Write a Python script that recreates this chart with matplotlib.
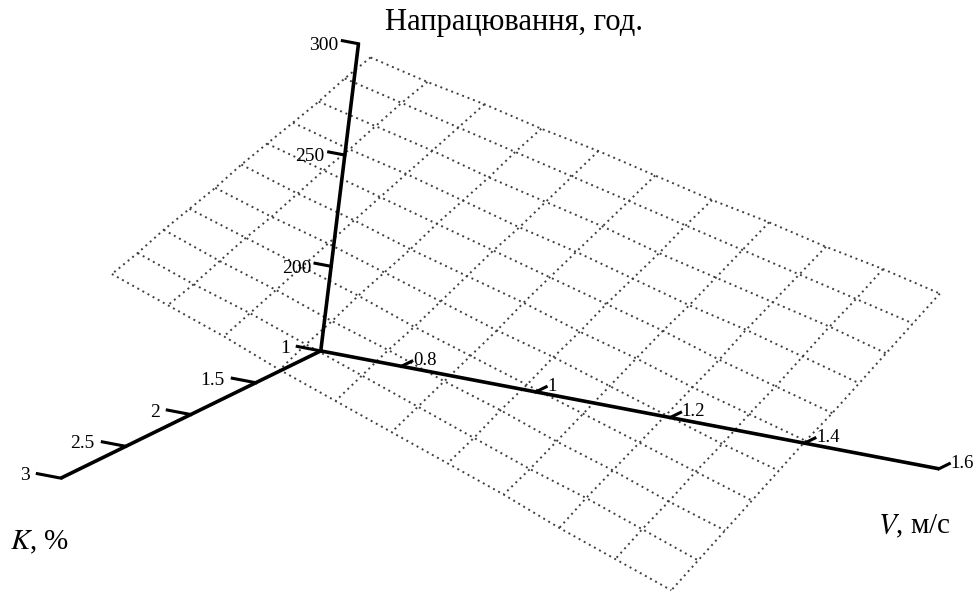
import matplotlib.pyplot as plt
import numpy as np
from mpl_toolkits.mplot3d import proj3d

plt.rcParams["mathtext.fontset"] = "stix"

# grid of the surface (K, %  and  V, m/s)
k_vals = [1.0, 1.19, 1.38, 1.57, 1.76, 1.95, 2.14, 2.33, 2.52, 2.71, 2.9]
v_vals = [0.70, 0.787, 0.874, 0.961, 1.048, 1.135, 1.222, 1.309, 1.396, 1.483, 1.57]

# operating time, hours (rows - K, columns - V)
hours = [
    [295, 289, 284, 278, 273, 267, 261, 256, 250, 245, 239],
    [291, 285, 279, 273, 267, 261, 255, 249, 243, 237, 231],
    [286, 280, 274, 267, 261, 255, 248, 242, 236, 230, 223],
    [282, 275, 269, 262, 255, 249, 242, 235, 229, 222, 215],
    [278, 271, 264, 257, 250, 243, 236, 229, 221, 214, 207],
    [274, 266, 259, 251, 244, 237, 229, 222, 214, 207, 200],
    [269, 261, 254, 246, 238, 230, 223, 215, 207, 199, 192],
    [265, 257, 249, 241, 232, 224, 216, 208, 200, 192, 184],
    [261, 252, 244, 235, 227, 218, 210, 201, 193, 184, 176],
    [256, 247, 239, 230, 221, 212, 203, 194, 186, 177, 168],
    [252, 243, 234, 224, 215, 206, 197, 188, 178, 169, 160],
]

# axis ranges and ticks
k_min, k_max = 1.0, 3.0
v_min, v_max = 0.68, 1.6
t_min, t_max = 162, 300

k_ticks = [1, 1.5, 2, 2.5, 3]
k_labels = ["1", "1.5", "2", "2.5", "3"]
v_ticks = [0.8, 1.0, 1.2, 1.4, 1.6]
v_labels = ["0.8", "1", "1.2", "1.4", "1.6"]
t_ticks = [200, 250, 300]
t_labels = ["200", "250", "300"]

serif = "Liberation Serif"

fig = plt.figure(figsize=(9.75, 5.93), dpi=100)
ax = fig.add_axes([-0.0472, -0.492, 1.128, 1.855], projection="3d", proj_type="ortho")
ax.set_axis_off()
ax.computed_zorder = False

ax.set_xlim(k_min, k_max)
ax.set_ylim(v_min, v_max)
ax.set_zlim(t_min, t_max)
ax.set_box_aspect((1.21, 1.0, 0.48), zoom=0.955)
ax.view_init(elev=12, azim=17.7, roll=-7)

K, V = np.meshgrid(k_vals, v_vals, indexing="ij")
Z = np.array(hours, dtype=float)
ax.plot_wireframe(K, V, Z, rstride=1, cstride=1, color="0.25", linewidth=1.4,
                  linestyle=(0, (1, 2.0)))

# three axes from one corner
ax.plot([k_min, k_max], [v_min, v_min], [t_min, t_min], color="k", lw=2.6, solid_capstyle="butt")
ax.plot([k_min, k_min], [v_min, v_max], [t_min, t_min], color="k", lw=2.6, solid_capstyle="butt")
ax.plot([k_min, k_min], [v_min, v_min], [t_min, t_max], color="k", lw=2.6, solid_capstyle="butt")

M = ax.get_proj()


def label(k, v, t, s, ha, size=14):
    # put a flat text at the projected point of (k, v, t)
    x2, y2, _ = proj3d.proj_transform(k, v, t, M)
    ax.text2D(x2, y2, s, transform=ax.transData, ha=ha, va="center",
              fontsize=size, family=serif)


dv = 0.035   # tick length along V (K axis)
dvt = 0.024  # tick length along V (vertical axis)
dk = 0.08    # tick length along K (V axis)
for k, lab in zip(k_ticks, k_labels):
    ax.plot([k, k], [v_min, v_min - dv], [t_min, t_min], color="k", lw=2.2)
    label(k, v_min - dv * 1.3, t_min - 1.5, lab, "right")
for v, lab in zip(v_ticks, v_labels):
    ax.plot([k_min, k_min - dk], [v, v], [t_min, t_min], color="k", lw=2.2)
    label(k_min - dk * 1.1, v, t_min, lab, "left", 13.5)
for t, lab in zip(t_ticks, t_labels):
    ax.plot([k_min, k_min], [v_min, v_min - dvt], [t, t], color="k", lw=2.2)
    label(k_min, v_min - dvt * 1.2, t - 2.5, lab, "right")

fig.text(0.395, 0.962, "Напрацювання, год.", ha="left", va="center",
         fontsize=22, family=serif)
fig.text(0.900, 0.112, r"$\mathit{V}$, м/с", ha="left", va="center",
         fontsize=21, family=serif)
fig.text(0.010, 0.085, r"$\mathit{K}$, %", ha="left", va="center",
         fontsize=21, family=serif)

fig.savefig("out.png", dpi=100)
